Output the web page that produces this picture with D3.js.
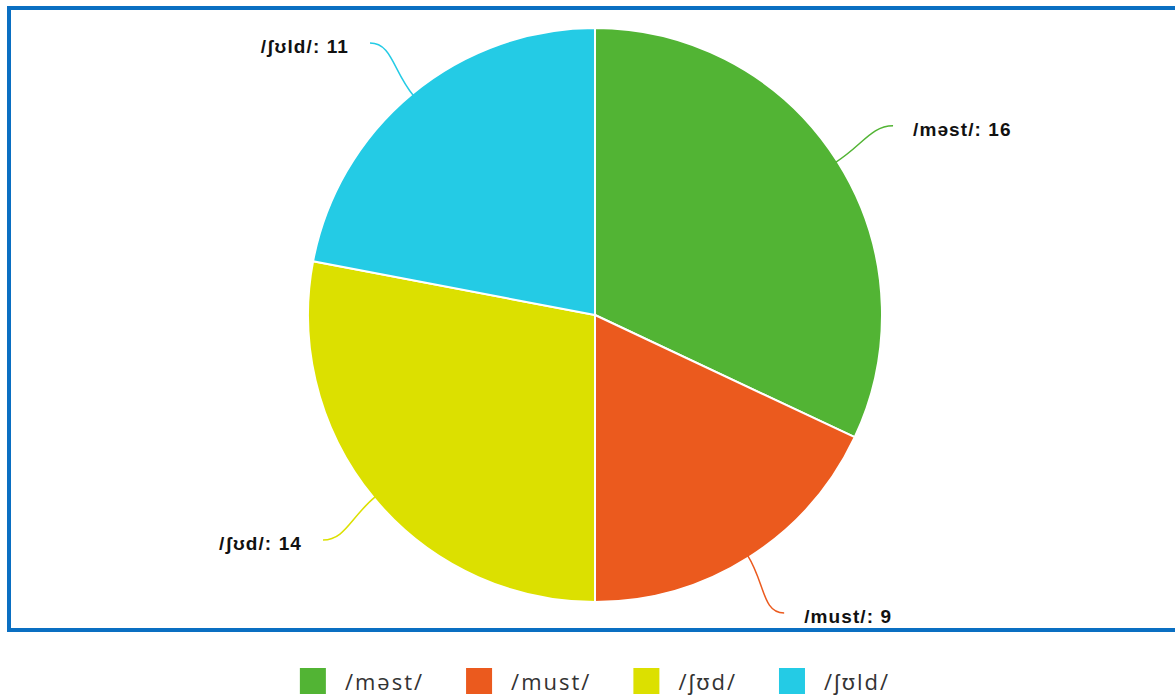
<!DOCTYPE html>
<html>
<head>
<meta charset="utf-8">
<script src="https://cdn.jsdelivr.net/npm/d3@7"></script>
<style>
  body { margin: 0; background: #fff; }
  svg { display: block; }
</style>
</head>
<body>
<svg id="chart" width="1175" height="697"></svg>
<script>
///// *** DATA *** /////
var labels = ['/məst/', '/must/', '/ʃʊd/', '/ʃʊld/'],
    values = [16, 9, 14, 11],
    colors = ['#52b434', '#eb5a1e', '#dce000', '#24cbe5'];

///// *** SETUP *** /////
var svg = d3.select('#chart'),
    cx = 595,
    cy = 315,
    radius = 287,
    labelRadius = 353;

// blue frame round the plot
svg.append('rect')
  .attr('x', 9)
  .attr('y', 8)
  .attr('width', 1180)
  .attr('height', 622)
  .attr('fill', 'none')
  .attr('stroke', '#0a6fc2')
  .attr('stroke-width', 4);

var pie = d3.pie().sort(null).value(function(d) { return d; });
var arcs = pie(values);

var arc = d3.arc().innerRadius(0).outerRadius(radius);

var g = svg.append('g').attr('transform', 'translate(' + cx + ',' + cy + ')');

g.selectAll('path.slice')
  .data(arcs)
  .enter().append('path')
  .attr('class', 'slice')
  .attr('d', arc)
  .attr('fill', function(d, i) { return colors[i]; })
  .attr('stroke', '#fff')
  .attr('stroke-width', 2)
  .attr('stroke-linejoin', 'round');

function polar(a, r) {
  return [Math.sin(a) * r, -Math.cos(a) * r];
}
function midAngle(d) {
  return (d.startAngle + d.endAngle) / 2;
}

//connectors, curved and ending flat
g.selectAll('path.connector')
  .data(arcs)
  .enter().append('path')
  .attr('class', 'connector')
  .attr('fill', 'none')
  .attr('stroke', function(d, i) { return colors[i]; })
  .attr('stroke-width', 1.5)
  .attr('d', function(d) {
    var mid = midAngle(d),
        p0 = polar(mid, radius - 2),
        p1 = polar(mid, radius + 30),
        end = polar(mid, labelRadius),
        dir = end[0] > 0 ? 1 : -1;
    return 'M' + p0 + 'C' + p1 + ' ' + [end[0] - dir * 22, end[1]] + ' ' + end;
  });

g.selectAll('text.label')
  .data(arcs)
  .enter().append('text')
  .attr('class', 'label')
  .attr('x', function(d) {
    var end = polar(midAngle(d), labelRadius);
    return end[0] + (end[0] > 0 ? 20 : -21);
  })
  .attr('y', function(d) {
    return polar(midAngle(d), labelRadius)[1] + 10;
  })
  .attr('text-anchor', function(d) {
    return Math.sin(midAngle(d)) > 0 ? 'start' : 'end';
  })
  .attr('font-family', '"Liberation Sans", Arial, "DejaVu Sans", sans-serif')
  .attr('font-weight', 'bold')
  .attr('font-size', 19)
  .attr('letter-spacing', 1.1)
  .attr('fill', '#111')
  .text(function(d, i) { return labels[i] + ': ' + values[i]; });

///// *** LEGEND ** /////
var boxSize = 26,
    textGap = 19,
    itemDistance = 42;

var legend = svg.append('g');

var items = legend.selectAll('g.item')
  .data(labels)
  .enter().append('g')
  .attr('class', 'item');

items.append('rect')
  .attr('width', boxSize)
  .attr('height', boxSize)
  .attr('fill', function(d, i) { return colors[i]; });

items.append('text')
  .attr('x', boxSize + textGap)
  .attr('y', 22)
  .attr('font-family', '"Open Sans", "Noto Sans", sans-serif')
  .attr('font-size', 22)
  .attr('letter-spacing', 2)
  .attr('fill', '#333')
  .text(function(d) { return d; });

//lay items out by text width, then centre the row
var x = 0;
items.each(function() {
  var item = d3.select(this),
      w = item.select('text').node().getComputedTextLength();
  item.attr('transform', 'translate(' + x + ',0)');
  x += boxSize + textGap + w + itemDistance;
});
var total = x - itemDistance;
legend.attr('transform', 'translate(' + (cx - total / 2) + ',668)');
</script>
</body>
</html>
